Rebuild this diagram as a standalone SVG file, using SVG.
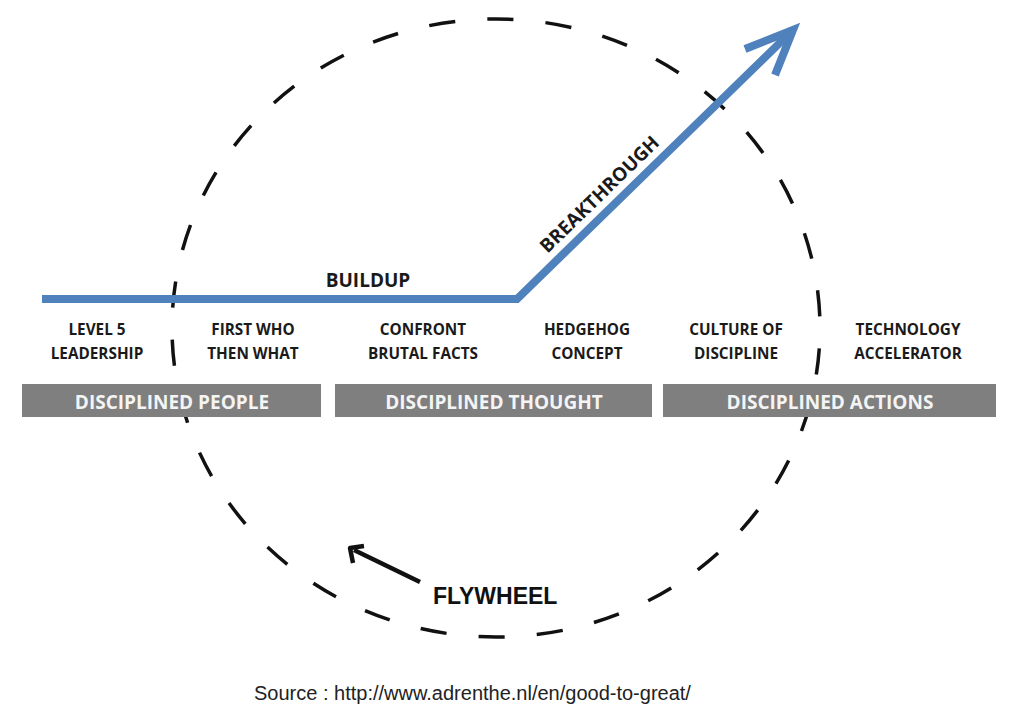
<svg xmlns="http://www.w3.org/2000/svg" width="1024" height="711" viewBox="0 0 1024 711">
<style>
.lbl{font-family:"Open Sans","Liberation Sans",sans-serif;font-weight:bold;font-size:15.3px;fill:#1a1a1a;text-anchor:middle}
.bar{fill:#7f7f7f}
.bartxt{font-family:"Open Sans","Liberation Sans",sans-serif;font-weight:bold;font-size:19px;fill:#f4f4f4;text-anchor:middle}
.big{font-family:"Open Sans","Liberation Sans",sans-serif;font-weight:bold;font-size:19px;fill:#1a1a1a;text-anchor:middle}
</style>
<rect width="1024" height="711" fill="#fff"/>
<g id="connectors">
<ellipse id="flywheel-circle" cx="496" cy="328" rx="324" ry="309" fill="none" stroke="#111" stroke-width="3.5" pathLength="34" stroke-dasharray="0.45 0.55" stroke-dashoffset="0.65"/>
<polyline id="growth-line" points="42,299 517,299 792,31" fill="none" stroke="#4f81bd" stroke-width="8" stroke-linejoin="miter"/>
<polyline id="growth-head" points="745,49 793,30 775,75" fill="none" stroke="#4f81bd" stroke-width="8" stroke-linejoin="miter" stroke-linecap="butt"/>
<line x1="420" y1="582" x2="354" y2="550" stroke="#111" stroke-width="4.5"/>
<polyline points="353,563 350,548 364,546" fill="none" stroke="#111" stroke-width="4.5" stroke-linejoin="round"/>
</g>
<g id="buildup"><text class="big" x="368" y="287">BUILDUP</text></g>
<g id="breakthrough"><text class="big" transform="translate(604,199) rotate(-44.2)" x="0" y="0">BREAKTHROUGH</text></g>
<g id="level5"><text class="lbl" x="97" y="335">LEVEL 5</text><text class="lbl" x="97" y="359">LEADERSHIP</text></g>
<g id="firstwho"><text class="lbl" x="253" y="335">FIRST WHO</text><text class="lbl" x="253" y="359">THEN WHAT</text></g>
<g id="confront"><text class="lbl" x="423" y="335">CONFRONT</text><text class="lbl" x="423" y="359">BRUTAL FACTS</text></g>
<g id="hedgehog"><text class="lbl" x="587" y="335">HEDGEHOG</text><text class="lbl" x="587" y="359">CONCEPT</text></g>
<g id="culture"><text class="lbl" x="736" y="335">CULTURE OF</text><text class="lbl" x="736" y="359">DISCIPLINE</text></g>
<g id="technology"><text class="lbl" x="908" y="335">TECHNOLOGY</text><text class="lbl" x="908" y="359">ACCELERATOR</text></g>
<g id="people"><rect class="bar" x="22" y="384" width="299" height="33"/><text class="bartxt" x="172" y="408.5">DISCIPLINED PEOPLE</text></g>
<g id="thought"><rect class="bar" x="335" y="384" width="317" height="33"/><text class="bartxt" x="494" y="408.5">DISCIPLINED THOUGHT</text></g>
<g id="actions"><rect class="bar" x="663" y="384" width="333" height="33"/><text class="bartxt" x="830" y="408.5">DISCIPLINED ACTIONS</text></g>
<g id="flywheel"><text x="433" y="604" font-family="Liberation Sans, Arial, sans-serif" font-weight="bold" font-size="23" fill="#111">FLYWHEEL</text></g>
<g id="source"><text x="254" y="700" font-family="Liberation Sans, Arial, sans-serif" font-size="20" fill="#222">Source : http://www.adrenthe.nl/en/good-to-great/</text></g>
</svg>
